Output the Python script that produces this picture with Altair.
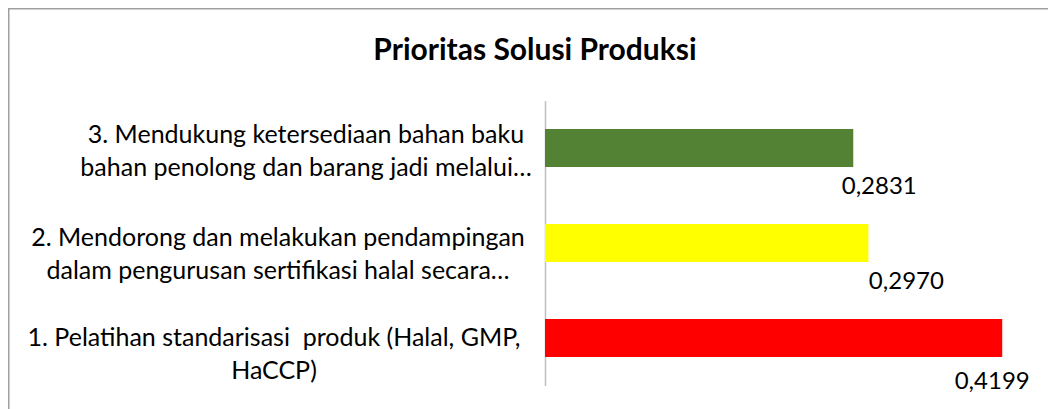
import altair as alt
import pandas as pd

# ---- data ----
categories = [
    "1. Pelatihan standarisasi\u00a0 produk (Halal, GMP,\nHaCCP)",
    "2. Mendorong dan melakukan pendampingan\ndalam pengurusan sertifikasi halal secara…",
    "3. Mendukung ketersediaan bahan baku\nbahan penolong dan barang jadi melalui…",
]
values = [0.4199, 0.2970, 0.2831]
colors = ["#FF0000", "#FFFF00", "#548235"]
title_text = "Prioritas Solusi Produksi"

df = pd.DataFrame({"cat": categories, "val": values, "col": colors})
order = categories[::-1]  # top to bottom: 3, 2, 1

FONT = "Lato"
PLOT_W, PLOT_H = 490, 285
PAD_L, PAD_T = 537, 92.5

y_enc = alt.Y("cat:N", sort=order, title=None,
              scale=alt.Scale(paddingInner=0.6, paddingOuter=0.3),
              axis=alt.Axis(labels=False, ticks=False, grid=False,
                            domainColor="#BFBFBF", domainWidth=1.5))
x_enc = alt.X("val:Q", axis=None, scale=alt.Scale(domain=[0, 0.45], nice=False))

base = alt.Chart(df)

bars = base.mark_bar().encode(
    x=x_enc, y=y_enc,
    color=alt.Color("col:N", scale=None),
)

layers = [bars]

# style offsets per row (category label centre x, label dy, value dx, value dy)
label_x = {categories[0]: -271, categories[1]: -267, categories[2]: -239}
label_dy = {categories[0]: -0.5, categories[1]: -5.5, categories[2]: -13}
val_dx = {categories[0]: -10, categories[1]: 38, categories[2]: 26}
val_dy = {categories[0]: 44, categories[1]: 39, categories[2]: 39}

for c in categories:
    sub = base.transform_filter(alt.datum.cat == c)
    layers.append(
        sub.transform_calculate(lines="split(datum.cat, '\\n')").mark_text(
            font=FONT, fontSize=25, color="#000000", align="center",
            baseline="middle", lineHeight=33, dy=label_dy[c],
        ).encode(x=alt.value(label_x[c]), y=alt.Y("cat:N", sort=order), text="lines:N")
    )
    layers.append(
        sub.transform_calculate(
            lbl="replace(format(datum.val, '.4f'), '.', ',')"
        ).mark_text(
            font=FONT, fontSize=24, color="#000000", align="center",
            baseline="middle", dx=val_dx[c], dy=val_dy[c],
        ).encode(x="val:Q", y=alt.Y("cat:N", sort=order), text="lbl:N")
    )

title_df = pd.DataFrame({"t": [title_text]})
title = alt.Chart(title_df).mark_text(
    font=FONT, fontSize=30, fontWeight="bold", color="#000000",
    align="center", baseline="alphabetic",
).encode(x=alt.value(535 - 8 - PAD_L), y=alt.value(60 - 8 - PAD_T), text="t:N")

frame = alt.Chart(pd.DataFrame({"f": [0]})).mark_rect(
    fill=None, stroke="#9F9F9F", strokeWidth=1.5, clip=False,
).encode(x=alt.value(-PAD_L + 0.75), y=alt.value(-PAD_T + 0.75),
         x2=alt.value(700), y2=alt.value(500))

chart = alt.layer(frame, *layers, title).properties(
    width=PLOT_W, height=PLOT_H,
    autosize=alt.AutoSizeParams(type="none"),
    padding={"left": PAD_L, "top": PAD_T, "right": 13, "bottom": 23.5},
).configure_view(stroke=None)

chart.save("out.html", embed_options={"renderer": "svg", "actions": False})
